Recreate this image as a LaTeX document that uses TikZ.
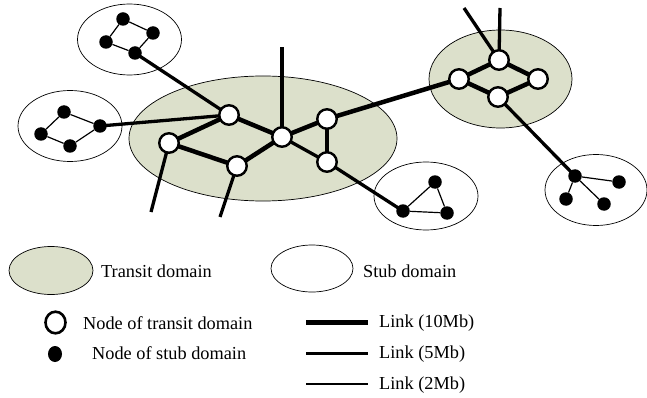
\documentclass[tikz,border=0pt]{standalone}
\usepackage{fontspec}
\setmainfont{Liberation Serif}
\begin{document}
\begin{tikzpicture}[x=1pt,y=-1pt,
  tnode/.style={circle,draw=black,fill=white,line width=2.4pt,minimum size=19.5pt,inner sep=0pt},
  snode/.style={circle,fill=black,minimum size=13.5pt,inner sep=0pt},
  transitdom/.style={fill=transitfill,draw=black,line width=0.7pt},
  stubdom/.style={fill=white,draw=black,line width=0.7pt},
  lten/.style={line width=4.5pt},
  lfive/.style={line width=3.3pt},
  ltwo/.style={line width=1.2pt},
  lbl/.style={anchor=west,inner sep=0pt,font=\fontsize{18.3}{22}\selectfont}]
\definecolor{transitfill}{RGB}{220,224,203}
\useasboundingbox (0,0) rectangle (647,398);
% domains
\draw[stubdom] (129.5,39.5) ellipse [x radius=52, y radius=35.5];
\draw[stubdom] (70,126) ellipse [x radius=52, y radius=35.5];
\draw[transitdom] (263,138.5) ellipse [x radius=134, y radius=62.5];
\draw[transitdom] (500.5,79) ellipse [x radius=71.5, y radius=49];
\draw[stubdom] (426,196) ellipse [x radius=52, y radius=34];
\draw[stubdom] (596,190) ellipse [x radius=51, y radius=35.5];
% stub nodes
\node[snode] (s1a) at (123,19) {};
\node[snode] (s1b) at (153,33) {};
\node[snode] (s1c) at (106,42) {};
\node[snode] (s1d) at (135,53) {};
\node[snode] (s2a) at (64,112) {};
\node[snode] (s2b) at (100,126) {};
\node[snode] (s2c) at (41,134) {};
\node[snode] (s2d) at (70,146) {};
\node[snode] (s3a) at (403,211) {};
\node[snode] (s3b) at (435,182) {};
\node[snode] (s3c) at (447,213) {};
\node[snode] (s4a) at (575,176) {};
\node[snode] (s4b) at (619,182) {};
\node[snode] (s4c) at (566,199) {};
\node[snode] (s4d) at (604,204) {};
% transit node positions
\coordinate (A) at (229,115);
\coordinate (B) at (169,143);
\coordinate (C) at (237,166);
\coordinate (D) at (282,137);
\coordinate (E) at (327,119);
\coordinate (F) at (327,162);
\coordinate (RT) at (499,60);
\coordinate (RL) at (459,79);
\coordinate (RR) at (538,79);
\coordinate (RB) at (498,97);
% free ends
\coordinate (Dtop) at (282,47);
\coordinate (Bbot) at (151,212);
\coordinate (Cbot) at (220,217);
\coordinate (RTtop) at (500,8);
\coordinate (RTtl) at (464,8);
% links
\draw[ltwo] (s1a) -- (s1b) -- (s1d) -- (s1c) -- (s1a);
\draw[ltwo] (s2a) -- (s2b) -- (s2d) -- (s2c) -- (s2a);
\draw[ltwo] (s3a) -- (s3b) -- (s3c) -- (s3a);
\draw[ltwo] (s4a) -- (s4b);
\draw[ltwo] (s4a) -- (s4c);
\draw[ltwo] (s4a) -- (s4d);
\draw[lfive] (s1d.center) -- (A);
\draw[lfive] (s2b.center) -- (A);
\draw[lten] (A) -- (B);
\draw[lten] (A) -- (D);
\draw[lten] (B) -- (C);
\draw[lten] (C) -- (D);
\draw[lten] (D) -- (E);
\draw[lfive] (D) -- (F);
\draw[lten] (E) -- (F);
\draw[lfive] (D) -- (Dtop);
\draw[lfive] (B) -- (Bbot);
\draw[lfive] (C) -- (Cbot);
\draw[lten] (E) -- (RL);
\draw[lfive] (F) -- (s3a.center);
\draw[lten] (RL) -- (RT) -- (RR) -- (RB) -- cycle;
\draw[lfive] (RT) -- (RTtop);
\draw[lfive] (RT) -- (RTtl);
\draw[lfive] (RB) -- (s4a.center);
% transit nodes on top
\foreach \n in {A,B,C,D,E,F,RT,RL,RR,RB}
  \node[tnode] (n\n) at (\n) {};
% legend
\draw[transitdom] (51,270.5) ellipse [x radius=42, y radius=24];
\node[lbl] (lt) at (101,271) {Transit domain};
\draw[stubdom] (312,268.5) ellipse [x radius=41, y radius=23.5];
\node[lbl] (ls) at (363,271) {Stub domain};
\draw[line width=2.6pt,fill=white] (55.5,322.5) ellipse [x radius=10, y radius=10.8];
\node[lbl] (ltn) at (83,323) {Node of transit domain};
\fill (55,354) ellipse [x radius=7, y radius=8];
\node[lbl] (lsn) at (92,353) {Node of stub domain};
\coordinate (l1a) at (306,322.5); \coordinate (l1b) at (368,322.5);
\coordinate (l2a) at (306,353.5); \coordinate (l2b) at (368,353.5);
\coordinate (l3a) at (306,384); \coordinate (l3b) at (368,384);
\draw[line width=5pt] (l1a) -- (l1b);
\draw[line width=3.8pt] (l2a) -- (l2b);
\draw[ltwo] (l3a) -- (l3b);
\node[lbl] (lk1) at (379,323) {Link (10Mb)};
\node[lbl] (lk2) at (379,354) {Link (5Mb)};
\node[lbl] (lk3) at (379,385) {Link (2Mb)};
\end{tikzpicture}
\end{document}
